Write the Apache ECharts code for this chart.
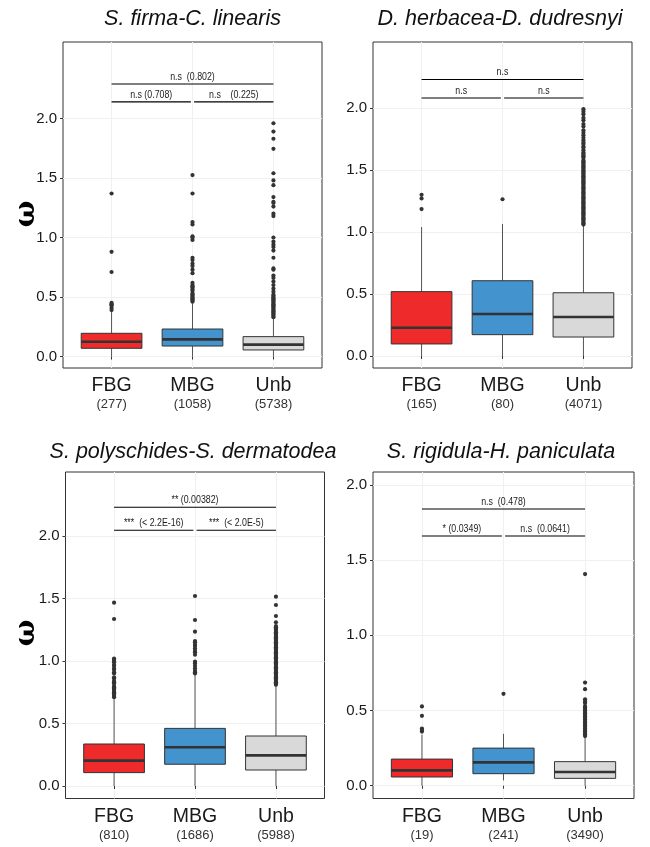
<!DOCTYPE html>
<html>
<head>
<meta charset="utf-8">
<script src="https://cdn.jsdelivr.net/npm/echarts@6/dist/echarts.min.js"></script>
<style>html,body{margin:0;padding:0;background:#fff}#c{width:650px;height:847px}</style>
</head>
<body>
<div id="c"></div>
<script>
// ---------------- DATA ----------------
const categories = ['FBG', 'MBG', 'Unb'];
const titles = ['S. firma-C. linearis', 'D. herbacea-D. dudresnyi', 'S. polyschides-S. dermatodea', 'S. rigidula-H. paniculata'];
const yTickValues = [0, 0.5, 1.0, 1.5, 2.0];
const yLabel = 'ω';

// sample sizes (shown under the category names)
const counts1 = [277, 1058, 5738];
const counts2 = [165, 80, 4071];
const counts3 = [810, 1686, 5988];
const counts4 = [19, 241, 3490];

// box stats per category: [lower whisker, Q1, median, Q3, upper whisker]
const box1 = [[0, 0.069, 0.124, 0.195, 0.376], [0, 0.088, 0.144, 0.231, 0.447], [0, 0.055, 0.100, 0.167, 0.320]];
const box2 = [[0, 0.097, 0.228, 0.519, 1.040], [0, 0.172, 0.339, 0.607, 1.065], [0, 0.153, 0.315, 0.510, 1.050]];
const box3 = [[0, 0.107, 0.203, 0.336, 0.700], [0, 0.174, 0.310, 0.461, 0.888], [0, 0.128, 0.245, 0.400, 0.808]];
const box4 = [[0, 0.058, 0.102, 0.177, 0.340], [0.035, 0.080, 0.155, 0.250, 0.345], [0, 0.049, 0.091, 0.160, 0.323]];

// outliers
const out1FBG = [0.39, 0.41, 0.43, 0.44, 0.45, 0.71, 0.88, 1.37];
const out1MBG = [0.46, 0.47, 0.48, 0.49, 0.50, 0.51, 0.52, 0.53, 0.55, 0.565, 0.58, 0.59, 0.60, 0.62, 0.70, 0.73, 0.76, 0.78, 0.81, 0.83, 0.98, 1.00, 1.01, 1.11, 1.13, 1.37, 1.525];
const out1Unb = [0.33, 0.34, 0.35, 0.36, 0.37, 0.38, 0.39, 0.40, 0.41, 0.42, 0.43, 0.44, 0.45, 0.46, 0.47, 0.48, 0.49, 0.50, 0.51, 0.52, 0.545, 0.57, 0.60, 0.63, 0.66, 0.68, 0.73, 0.74, 0.83, 0.89, 0.92, 0.94, 0.965, 1.00, 1.18, 1.20, 1.26, 1.29, 1.30, 1.34, 1.44, 1.48, 1.54, 1.745, 1.83, 1.89, 1.96];

const out2FBG = [1.185, 1.27, 1.30];
const out2MBG = [1.264];
const out2Unb = [1.06, 1.07, 1.08, 1.09, 1.10, 1.11, 1.12, 1.13, 1.14, 1.15, 1.16, 1.17, 1.18, 1.19, 1.20, 1.21, 1.22, 1.23, 1.24, 1.25, 1.26, 1.27, 1.28, 1.29, 1.30, 1.31, 1.32, 1.33, 1.34, 1.35, 1.36, 1.37, 1.38, 1.39, 1.40, 1.41, 1.42, 1.43, 1.44, 1.45, 1.46, 1.47, 1.48, 1.49, 1.50, 1.51, 1.52, 1.53, 1.54, 1.55, 1.56, 1.57, 1.58, 1.60, 1.61, 1.62, 1.63, 1.64, 1.66, 1.68, 1.69, 1.71, 1.72, 1.74, 1.76, 1.78, 1.80, 1.82, 1.85, 1.87, 1.90, 1.92, 1.95, 1.97, 1.99];

const out3FBG = [0.71, 0.72, 0.73, 0.74, 0.75, 0.76, 0.77, 0.78, 0.79, 0.80, 0.82, 0.83, 0.84, 0.86, 0.87, 0.90, 0.91, 0.93, 0.94, 0.96, 0.97, 0.99, 1.00, 1.01, 1.02, 1.336, 1.467];
const out3MBG = [0.90, 0.91, 0.92, 0.94, 0.96, 0.98, 0.995, 1.05, 1.07, 1.08, 1.10, 1.12, 1.13, 1.15, 1.16, 1.235, 1.328, 1.52];
const out3Unb = [0.81, 0.82, 0.83, 0.84, 0.85, 0.86, 0.87, 0.88, 0.89, 0.90, 0.91, 0.92, 0.93, 0.94, 0.95, 0.96, 0.97, 0.98, 0.99, 1.00, 1.01, 1.02, 1.03, 1.04, 1.05, 1.06, 1.07, 1.08, 1.09, 1.10, 1.11, 1.12, 1.13, 1.14, 1.15, 1.16, 1.17, 1.18, 1.19, 1.20, 1.21, 1.22, 1.23, 1.24, 1.25, 1.26, 1.27, 1.28, 1.31, 1.36, 1.448, 1.515];

const out4FBG = [0.36, 0.37, 0.38, 0.465, 0.527];
const out4MBG = [0.611];
const out4Unb = [0.33, 0.34, 0.35, 0.36, 0.37, 0.38, 0.39, 0.40, 0.41, 0.42, 0.43, 0.44, 0.45, 0.46, 0.47, 0.48, 0.49, 0.50, 0.51, 0.52, 0.53, 0.55, 0.56, 0.575, 0.642, 0.686, 1.407];

// significance brackets: [from category position, to category position, omega level]
const sig1 = [[1, 3, 2.29], [1, 1.98, 2.14], [2.02, 3, 2.14]];
const sig1Text = ['n.s  (0.802)', 'n.s (0.708)', 'n.s    (0.225)'];
const sig2 = [[1, 3, 2.23], [1, 1.98, 2.08], [2.02, 3, 2.08]];
const sig2Text = ['n.s', 'n.s', 'n.s'];
const sig3 = [[1, 3, 2.23], [1, 1.98, 2.046], [2.02, 3, 2.046]];
const sig3Text = ['** (0.00382)', '***  (< 2.2E-16)', '***  (< 2.0E-5)'];
const sig4 = [[1, 3, 1.84], [1, 1.98, 1.66], [2.02, 3, 1.66]];
const sig4Text = ['n.s  (0.478)', '* (0.0349)', 'n.s  (0.0641)'];

// ---------------- LAYOUT / STYLE ----------------
const FONT = "'Liberation Sans', Arial, Helvetica, sans-serif";
const boxColors = ['#EE2A2B', '#4393CF', '#D9D9D9'];

const panels = [
  {grid: {left: 63, top: 42, width: 259, height: 326}, ymin: -0.0966, ymax: 2.643, counts: counts1, box: box1, out: [out1FBG, out1MBG, out1Unb], sig: sig1, sigText: sig1Text, title: titles[0], tx: 192.5, ty: 8, ylabY: 214},
  {grid: {left: 373, top: 42, width: 259, height: 326}, ymin: -0.0968, ymax: 2.532, counts: counts2, box: box2, out: [out2FBG, out2MBG, out2Unb], sig: sig2, sigText: sig2Text, title: titles[1], tx: 500, ty: 8, ylabY: null},
  {grid: {left: 65.5, top: 472, width: 259, height: 326.5}, ymin: -0.1, ymax: 2.512, counts: counts3, box: box3, out: [out3FBG, out3MBG, out3Unb], sig: sig3, sigText: sig3Text, title: titles[2], tx: 193, ty: 441, ylabY: 633},
  {grid: {left: 373, top: 472, width: 261, height: 326.5}, ymin: -0.085, ymax: 2.086, counts: counts4, box: box4, out: [out4FBG, out4MBG, out4Unb], sig: sig4, sigText: sig4Text, title: titles[3], tx: 501, ty: 441, ylabY: null}
];

const option = {
  animation: false,
  backgroundColor: '#ffffff',
  title: [], grid: [], xAxis: [], yAxis: [], series: [], graphic: []
};

panels.forEach(function (p, i) {
  option.grid.push(Object.assign({show: true, borderColor: '#333333', borderWidth: 1, backgroundColor: '#ffffff', containLabel: false, outerBoundsMode: 'none'}, p.grid));
  option.title.push({
    text: p.title, left: p.tx, top: p.ty, textAlign: 'center', padding: 0,
    textStyle: {fontFamily: FONT, fontSize: 21.5, fontStyle: 'italic', fontWeight: 'normal', color: '#111111'}
  });
  const counts = p.counts;
  option.xAxis.push({
    gridIndex: i, type: 'value', min: 0.4, max: 3.6,
    axisLine: {show: false},
    axisTick: {show: true, customValues: [1, 2, 3], length: 3, lineStyle: {color: '#333333'}},
    axisLabel: {
      customValues: [1, 2, 3], margin: 8,
      formatter: function (v) { const k = Math.round(v) - 1; return '{a|' + categories[k] + '}\n{b|(' + counts[k] + ')}'; },
      rich: {
        a: {fontFamily: FONT, fontSize: 19.5, lineHeight: 20, color: '#1a1a1a'},
        b: {fontFamily: FONT, fontSize: 13, lineHeight: 17, color: '#333333'}
      }
    },
    splitLine: {show: true, lineStyle: {color: '#F0F0F0', width: 1}}
  });
  option.yAxis.push({
    gridIndex: i, type: 'value', min: p.ymin, max: p.ymax,
    axisLine: {show: false},
    axisTick: {show: true, customValues: yTickValues, length: 3, lineStyle: {color: '#333333'}},
    axisLabel: {customValues: yTickValues, margin: 6, fontFamily: FONT, fontSize: 15, color: '#1a1a1a', formatter: function (v) { return v.toFixed(1); }},
    splitLine: {show: true, lineStyle: {color: '#F0F0F0', width: 1}}
  });

  // boxes (custom: whiskers without caps, box, thick median)
  option.series.push({
    type: 'custom', xAxisIndex: i, yAxisIndex: i, z: 3,
    data: p.box.map(function (b, k) { return [k + 1].concat(b); }),
    encode: {x: 0, y: [1, 2, 3, 4, 5]},
    renderItem: function (params, api) {
      const x = api.value(0);
      const pLo = api.coord([x, api.value(1)]);
      const pQ1 = api.coord([x, api.value(2)]);
      const pMd = api.coord([x, api.value(3)]);
      const pQ3 = api.coord([x, api.value(4)]);
      const pHi = api.coord([x, api.value(5)]);
      const w = api.size([0.75, 0])[0];
      const cx = pMd[0];
      const left = cx - w / 2;
      return {type: 'group', children: [
        {type: 'line', shape: {x1: cx, y1: pQ3[1], x2: cx, y2: pHi[1]}, style: {stroke: '#555555', lineWidth: 1}},
        {type: 'line', shape: {x1: cx, y1: pQ1[1], x2: cx, y2: pLo[1]}, style: {stroke: '#555555', lineWidth: 1}},
        {type: 'rect', shape: {x: left, y: pQ3[1], width: w, height: pQ1[1] - pQ3[1]}, style: {fill: boxColors[params.dataIndex], stroke: '#333333', lineWidth: 1}},
        {type: 'line', shape: {x1: left, y1: pMd[1], x2: left + w, y2: pMd[1]}, style: {stroke: '#333333', lineWidth: 2.6}}
      ]};
    }
  });

  // outliers
  const pts = [];
  p.out.forEach(function (arr, k) { arr.forEach(function (v) { pts.push([k + 1, v]); }); });
  option.series.push({
    type: 'scatter', xAxisIndex: i, yAxisIndex: i, z: 4, data: pts,
    symbol: 'circle', symbolSize: 4.2, itemStyle: {color: '#333333', opacity: 1}, silent: true
  });

  // significance brackets
  const texts = p.sigText;
  option.series.push({
    type: 'custom', xAxisIndex: i, yAxisIndex: i, z: 5,
    data: p.sig,
    encode: {x: [0, 1], y: 2},
    renderItem: function (params, api) {
      const a = api.coord([api.value(0), api.value(2)]);
      const b = api.coord([api.value(1), api.value(2)]);
      return {type: 'group', children: [
        {type: 'line', shape: {x1: a[0], y1: a[1], x2: b[0], y2: b[1]}, style: {stroke: '#000000', lineWidth: 1.1}},
        {type: 'text', x: (a[0] + b[0]) / 2, y: a[1] - 1.5, scaleX: 0.84, style: {text: texts[params.dataIndex], align: 'center', verticalAlign: 'bottom', fontFamily: FONT, fontSize: 10.5, fill: '#222222'}}
      ]};
    }
  });

  if (p.ylabY !== null) {
    option.graphic.push({
      type: 'text', x: 27, y: p.ylabY, rotation: Math.PI / 2,
      style: {text: yLabel, align: 'center', verticalAlign: 'middle', fontFamily: "'DejaVu Serif', serif", fontWeight: 'bold', fontSize: 28, fill: '#000000'}
    });
  }
});

const chart = echarts.init(document.getElementById('c'), null, {renderer: 'canvas'});
chart.setOption(option);
</script>
</body>
</html>
